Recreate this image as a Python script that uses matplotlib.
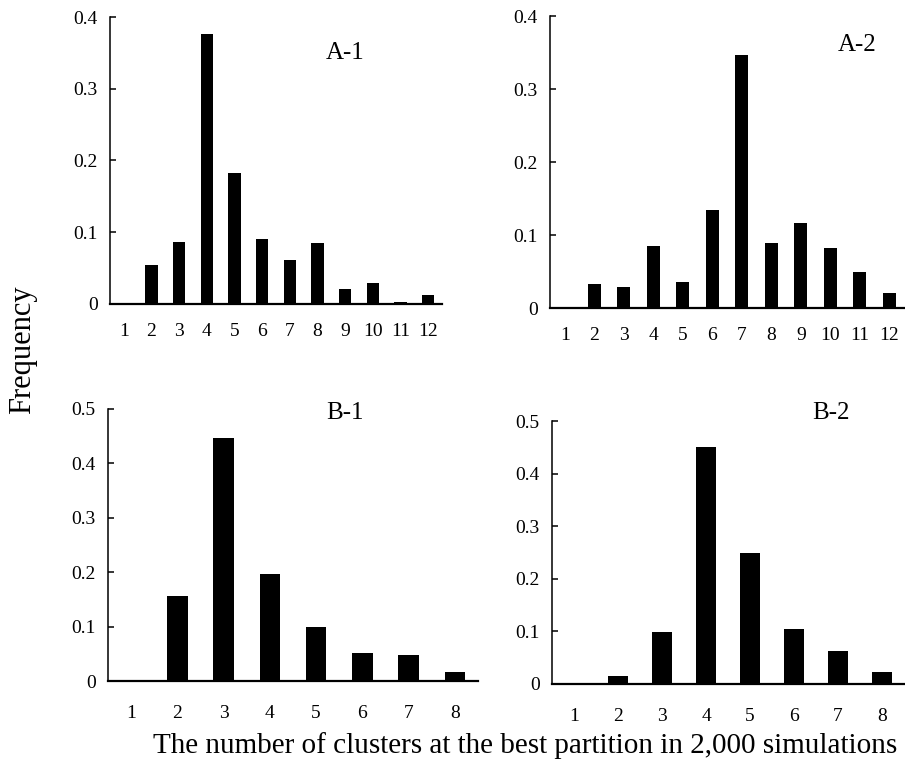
import matplotlib
matplotlib.use("Agg")
import matplotlib.pyplot as plt

plt.rcParams["font.family"] = ["Liberation Serif", "DejaVu Serif"]

# data
clusters_a = list(range(1, 13))
freq_a1 = [0, 0.054, 0.086, 0.377, 0.183, 0.090, 0.061, 0.085, 0.021, 0.029, 0.003, 0.012]
freq_a2 = [0, 0.033, 0.029, 0.085, 0.035, 0.134, 0.347, 0.089, 0.117, 0.082, 0.050, 0.021]

clusters_b = list(range(1, 9))
freq_b1 = [0, 0.157, 0.446, 0.196, 0.099, 0.052, 0.048, 0.016]
freq_b2 = [0, 0.015, 0.098, 0.451, 0.249, 0.105, 0.062, 0.023]

yticks_a = [0, 0.1, 0.2, 0.3, 0.4]
yticks_b = [0, 0.1, 0.2, 0.3, 0.4, 0.5]
ytick_labels_a = ["0", "0.1", "0.2", "0.3", "0.4"]
ytick_labels_b = ["0", "0.1", "0.2", "0.3", "0.4", "0.5"]

W, H = 905, 769
fig = plt.figure(figsize=(W / 100, H / 100), dpi=100)


def px_axes(left, top, right, bottom):
    return fig.add_axes([left / W, 1 - bottom / H, (right - left) / W, (bottom - top) / H])


panels = [
    # (left, top, right, bottom) in pixels, x, y, yticks, labels, panel name, name pos, xpad
    ((110, 17, 442, 304), clusters_a, freq_a1, yticks_a, ytick_labels_a, "A-1", (345, 53), 14),
    ((550, 16, 904, 308), clusters_a, freq_a2, yticks_a, ytick_labels_a, "A-2", (857, 45), 14),
    ((108, 409, 478, 681), clusters_b, freq_b1, yticks_b, ytick_labels_b, "B-1", (345, 413), 17),
    ((552, 421, 904, 684), clusters_b, freq_b2, yticks_b, ytick_labels_b, "B-2", (831, 413), 17),
]

for box, xs, ys, yt, ytl, name, npos, xpad in panels:
    ax = px_axes(*box)
    ax.bar(xs, ys, width=0.44, color="black")
    ax.set_xlim(0.5, len(xs) + 0.5)
    ax.set_ylim(0, yt[-1])
    ax.set_xticks(xs)
    ax.set_xticklabels([str(x) for x in xs])
    ax.set_yticks(yt)
    ax.set_yticklabels(ytl)
    ax.spines["top"].set_visible(False)
    ax.spines["right"].set_visible(False)
    ax.spines["left"].set_linewidth(1.1)
    ax.spines["bottom"].set_linewidth(1.6)
    ax.tick_params(axis="x", length=0, pad=xpad, labelsize=14)
    ax.tick_params(axis="y", direction="in", length=4, width=1.1, pad=9, labelsize=14)
    fig.text(npos[0] / W, 1 - npos[1] / H, name, fontsize=18, ha="center", va="center")

fig.text(23 / W, 1 - 350 / H, "Frequency", fontsize=22, rotation=90, ha="center", va="center")
fig.text(525 / W, 1 - 746 / H, "The number of clusters at the best partition in 2,000 simulations",
         fontsize=21, ha="center", va="center")

fig.savefig("out.png", dpi=100)
